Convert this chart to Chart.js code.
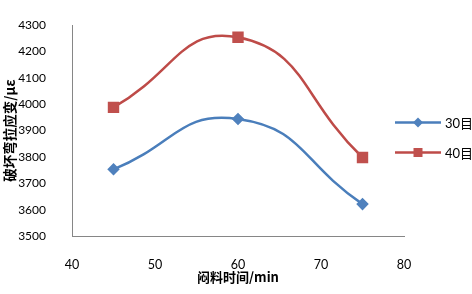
<!DOCTYPE html>
<html>
<head>
<meta charset="utf-8">
<script src="https://cdn.jsdelivr.net/npm/chart.js@4.4.1/dist/chart.umd.min.js"></script>
<style>
  html, body { margin: 0; padding: 0; background: #fff; }
  #wrap { width: 472px; height: 294px; }
</style>
</head>
<body>
<div id="wrap"><canvas id="grafico"></canvas></div>
<script>
// dados
const tempos = [45, 60, 75];
const serie30 = [3753, 3944, 3621];
const serie40 = [3988, 4254, 3798];
const nomesSeries = ['30目', '40目'];

const AZUL = '#4a7ebb';
const VERMELHO = '#be4b48';

// legenda desenhada à mão, sobreposta ao lado direito como no original
const legendaManual = {
  id: 'legendaManual',
  afterDraw(chart) {
    const ctx = chart.ctx;
    const linhas = [122.5, 152.5];
    chart.data.datasets.forEach((ds, i) => {
      const y = linhas[i];
      ctx.save();
      ctx.strokeStyle = ds.borderColor;
      ctx.lineWidth = 2.5;
      ctx.beginPath();
      ctx.moveTo(395, y);
      ctx.lineTo(441, y);
      ctx.stroke();
      ctx.fillStyle = ds.pointBackgroundColor;
      ctx.beginPath();
      if (ds.pointStyle === 'rect') {
        ctx.rect(418 - 4.5, y - 4.5, 9, 9);
      } else {
        ctx.moveTo(418, y - 5);
        ctx.lineTo(423, y);
        ctx.lineTo(418, y + 5);
        ctx.lineTo(413, y);
        ctx.closePath();
      }
      ctx.fill();
      ctx.fillStyle = '#000';
      ctx.font = '13px Lato, "Noto Sans CJK SC"';
      ctx.textBaseline = 'middle';
      ctx.textAlign = 'left';
      ctx.fillText(ds.label, 445, y + 1);
      ctx.restore();
    });
  }
};

new Chart(document.getElementById('grafico'), {
  type: 'line',
  data: {
    datasets: [
      {
        label: nomesSeries[0],
        data: tempos.map((t, i) => ({ x: t, y: serie30[i] })),
        borderColor: AZUL,
        backgroundColor: AZUL,
        pointBackgroundColor: '#4f81bd',
        pointBorderColor: '#4f81bd',
        pointStyle: 'rectRot',
        pointRadius: 4.5,
        borderWidth: 2.5,
        tension: 0.5
      },
      {
        label: nomesSeries[1],
        data: tempos.map((t, i) => ({ x: t, y: serie40[i] })),
        borderColor: VERMELHO,
        backgroundColor: VERMELHO,
        pointBackgroundColor: '#c0504d',
        pointBorderColor: '#c0504d',
        pointStyle: 'rect',
        pointRadius: 6.3,
        borderWidth: 2.5,
        tension: 0.5
      }
    ]
  },
  options: {
    responsive: true,
    maintainAspectRatio: false,
    animation: false,
    layout: { padding: { left: 0, right: 68, top: 13, bottom: 0 } },
    plugins: {
      legend: { display: false },
      tooltip: { enabled: false }
    },
    scales: {
      x: {
        type: 'linear',
        min: 40,
        max: 80,
        grid: { display: false },
        border: { display: true, color: '#868686', width: 1 },
        ticks: {
          stepSize: 10,
          padding: 13,
          color: '#000',
          font: { family: 'Lato', size: 12.5 },
          callback: v => String(v)
        },
        title: {
          display: true,
          text: '闷料时间/min',
          color: '#000',
          font: { family: '"Noto Sans CJK SC"', size: 13, weight: 'bold' },
          padding: { top: 0, bottom: 9 }
        },
        afterFit(scale) { scale.height = 58; }
      },
      y: {
        min: 3500,
        max: 4300,
        grid: { display: false },
        border: { display: true, color: '#868686', width: 1 },
        ticks: {
          stepSize: 100,
          padding: 18,
          color: '#000',
          font: { family: 'Lato', size: 12 },
          callback: v => String(v)
        },
        title: {
          display: true,
          text: '破坏弯拉应变/με',
          color: '#000',
          font: { family: '"Noto Sans CJK SC"', size: 13.5, weight: 'bold' },
          padding: { top: 2, bottom: 0 }
        },
        afterFit(scale) { scale.width = 72; }
      }
    }
  },
  plugins: [legendaManual]
});
</script>
</body>
</html>
